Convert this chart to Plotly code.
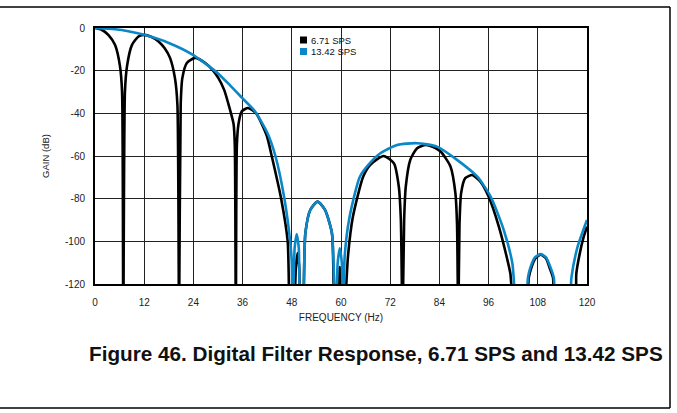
import plotly.graph_objects as go

# frequency (Hz) / gain (dB); notches go below -120 and get clipped
freq_671 = [0, 1.6, 3.3, 4.9, 6.1, 6.6, 6.9, 7.3, 7.8, 9.0, 10.6, 12.0, 13.8, 15.5, 17.0,
            18.3, 19.5, 20.1, 20.5, 20.9, 21.3, 22.4, 24.4, 26.9, 28.6, 30.1, 31.5,
            32.6, 33.8, 34.1, 34.35, 34.6, 35.0, 35.8, 37.3, 39.3, 41.9, 43.1, 45.4,
            47.0, 47.6, 48.6, 49.0, 49.4, 49.8, 50.2, 50.5, 51.3, 52.5, 54.3, 56.1,
            57.8, 58.5, 59.3, 59.7, 60.1, 60.9, 61.3, 61.7, 62.9, 65.4, 67.2, 70.4,
            72.9, 74.1, 74.6, 75.0, 75.4, 75.8, 76.9, 78.5, 80.6, 82.5, 84.3, 86.7,
            87.9, 88.3, 88.6, 88.9, 89.3, 90.3, 92.0, 94.0, 96.0, 98.5, 100.6, 101.3,
            102.1, 105.0, 105.8, 106.4, 107.4, 108.7, 110.0, 110.9, 111.7, 112.5,
            116.9, 117.4, 118.2, 119.2, 120.0]
gain_671 = [0, -0.8, -3.3, -8, -18, -30, -140, -30, -18, -8, -4, -3.2, -4.2, -6.3, -9.5,
            -14, -23.5, -36, -140, -36, -23.5, -16.4, -14, -16.4, -19.5, -23.5, -29,
            -36, -45, -55, -140, -55, -45, -39.1, -37.5, -40, -50.5, -60, -80,
            -100, -140, -130, -112, -105.5, -112, -140, -140, -96.3, -85.3, -81.4, -85.3,
            -96.3, -140, -135, -112, -135, -135, -120, -107, -88.5, -69.7, -64, -60,
            -63.4, -74.4, -90, -140, -90, -74.4, -61.8, -56.5, -54.8, -55.8, -57.9, -64.9,
            -77.4, -92, -140, -92, -77.4, -70.4, -68.9, -72, -79, -93.1, -108.8, -115,
            -130, -140, -117, -112.5, -108, -106.3, -108, -112.5, -117, -140,
            -135, -115, -106, -97.8, -93.1]

freq_1342 = [0, 4.9, 8.1, 12.0, 18.0, 24.0, 30.0, 33.0, 36.0, 39.0, 42.0, 44.0,
             46.2, 47.6, 48.0, 48.2, 48.7, 49.2, 49.7, 50.2, 50.5, 51.3, 52.5, 54.3,
             56.1, 57.8, 58.6, 59.2, 59.7, 60.2, 60.6, 60.9, 62.1, 64.6, 67.2, 69.6,
             73.7, 78.5, 83.4, 88.3, 93.2, 96.5, 99.7, 101.8, 102.7, 104.8, 105.6,
             106.2, 107.3, 108.7, 110.0, 111.1, 111.9, 112.8, 115.4, 116.2, 117.7, 120.0]
gain_1342 = [0, -0.6, -1.5, -3.2, -7.0, -12.7, -21.3, -27, -33, -39, -49, -60,
             -80, -100, -110, -140, -103, -96.6, -103, -140, -140, -96.3, -85.3, -81.4,
             -85.3, -96.3, -140, -110, -103.3, -110, -140, -107, -88.5, -69.7, -63, -58.7,
             -54.8, -54, -55.6, -61.8, -69.6, -79, -94.7, -110.4, -130, -140, -117,
             -112.2, -107.5, -106, -107.5, -112.2, -117, -140, -140, -117, -102.6, -90]

x_ticks = [0, 12, 24, 36, 48, 60, 72, 84, 96, 108, 120]
y_ticks = [0, -20, -40, -60, -80, -100, -120]
y_ticktext = ['0', '-20', '-40', '-60', '-80', '-100', '-120']

BLACK = '#000000'
BLUE = '#0a87c8'
FONT = 'Arial, Liberation Sans, sans-serif'

fig = go.Figure()
fig.add_trace(go.Scatter(x=freq_671, y=gain_671, mode='lines', name='6.71 SPS',
                         line=dict(color=BLACK, width=2.6, shape='spline', smoothing=0.6)))
fig.add_trace(go.Scatter(x=freq_1342, y=gain_1342, mode='lines', name='13.42 SPS',
                         line=dict(color=BLUE, width=2.6, shape='spline', smoothing=0.6)))


# convert pixel positions of the page to paper coords (plot area is 95..587 x 28..284)
def px(x):
    return (x - 95) / 492.0


def py(y):
    return (284 - y) / 256.0


shapes = []
# page frame: top, right and bottom rules
shapes.append(dict(type='line', xref='paper', yref='paper', x0=px(0), x1=px(670),
                   y0=py(7), y1=py(7), line=dict(color='black', width=1.5)))
shapes.append(dict(type='line', xref='paper', yref='paper', x0=px(670), x1=px(670),
                   y0=py(7), y1=py(408), line=dict(color='black', width=1.5)))
shapes.append(dict(type='line', xref='paper', yref='paper', x0=px(0), x1=px(670),
                   y0=py(408), y1=py(408), line=dict(color='black', width=1.5)))

# legend swatches
for name, col, yc in [('6.71 SPS', BLACK, 40), ('13.42 SPS', BLUE, 51.5)]:
    shapes.append(dict(type='rect', xref='paper', yref='paper', x0=px(300), x1=px(307),
                       y0=py(yc + 3.5), y1=py(yc - 3.5), fillcolor=col, line=dict(width=0)))

annotations = [
    dict(text='6.71 SPS', x=px(308.5), y=py(40), xref='paper', yref='paper',
         xanchor='left', yanchor='middle', showarrow=False,
         font=dict(family=FONT, size=9.5, color='#111')),
    dict(text='13.42 SPS', x=px(308.5), y=py(51.5), xref='paper', yref='paper',
         xanchor='left', yanchor='middle', showarrow=False,
         font=dict(family=FONT, size=9.5, color='#111')),
    dict(text='<b>Figure 46. Digital Filter Response, 6.71 SPS and 13.42 SPS</b>',
         x=px(375.5), y=py(353), xref='paper', yref='paper', xanchor='center',
         yanchor='middle', showarrow=False, font=dict(family=FONT, size=20.7, color='#111')),
]

fig.update_layout(
    width=677, height=413,
    margin=dict(l=95, r=90, t=28, b=129),
    paper_bgcolor='white', plot_bgcolor='white',
    showlegend=False,
    shapes=shapes,
    annotations=annotations,
    font=dict(family=FONT, size=10, color='#222'),
)

fig.update_xaxes(
    range=[0, 120], tickvals=x_ticks, ticks='', ticklabelstandoff=8,
    showgrid=True, gridcolor='#222', gridwidth=1,
    showline=True, linecolor='black', linewidth=2, mirror=True,
    zeroline=False,
    title=dict(text='FREQUENCY (Hz)', standoff=7, font=dict(size=10)),
)

fig.update_yaxes(
    range=[-120, 0], tickvals=y_ticks, ticktext=y_ticktext, ticks='', ticklabelstandoff=6,
    showgrid=True, gridcolor='#222', gridwidth=1,
    showline=True, linecolor='black', linewidth=2, mirror=True,
    zeroline=False,
    title=dict(text='GAIN (dB)', standoff=14, font=dict(size=9.5)),
)

# drop the default page margin so the figure sits at the window origin
fig.write_html("out.html", config={'displayModeBar': False},
               post_script="document.body.style.margin='0px';")
